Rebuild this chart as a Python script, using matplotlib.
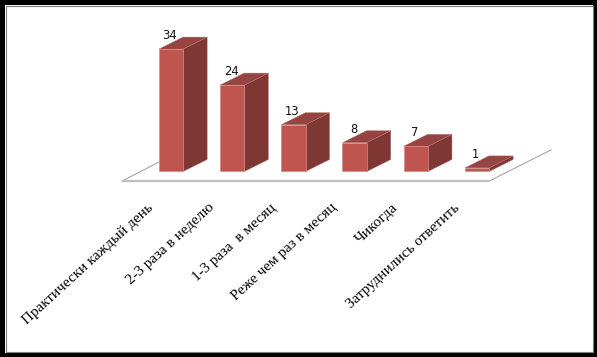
import matplotlib
matplotlib.use("Agg")
import matplotlib.pyplot as plt
from matplotlib.patches import Polygon, Rectangle

categorias = ["Практически каждый день", "2-3 раза в неделю", "1-3 раза  в месяц",
              "Реже чем раз в месяц", "Чикогда", "Затруднились ответить"]
valores = [34, 24, 13, 8, 7, 1]

W, H = 597, 357
PX_X = 61.2    # px por categoria
PX_Y = 3.6     # px por unidad
X0, Y0 = 171.0, 171.5  # posicion en px de la categoria 0 / valor 0

ANCHO = 24.3 / PX_X
DX = 24.0 / PX_X
DY = 12.0 / PX_Y

COL_FRENTE = "#C0544F"
COL_LADO = "#7F3734"
COL_TOPE = "#954441"
COL_BORDE = "#D28B88"

fig = plt.figure(figsize=(W / 100, H / 100), dpi=100, facecolor="white")
ax = fig.add_axes([0, 0, 1, 1])
ax.set_xlim(-X0 / PX_X, (W - X0) / PX_X)
ax.set_ylim(-(H - Y0) / PX_Y, Y0 / PX_Y)
ax.axis("off")

# Suelo del grafico 3D
suelo_izq = -0.8
suelo_der = 5.2
suelo_y = -2.65
ax.plot([suelo_izq, -0.2], [suelo_y, 2.6], color="#A6A6A6", lw=0.8, zorder=1)
ax.plot([suelo_der, suelo_der + 1.01], [suelo_y, 6.0], color="#A6A6A6", lw=0.8, zorder=1)
ax.plot([suelo_izq, suelo_der], [suelo_y, suelo_y], color="#BFBFBF", lw=1.6,
        solid_capstyle="butt", zorder=1)

for i, v in enumerate(valores):
    izq = i - ANCHO / 2
    der = i + ANCHO / 2
    ax.add_patch(Polygon([(der, 0), (der + DX, DY), (der + DX, v + DY), (der, v)],
                         facecolor=COL_LADO, edgecolor="#A9706E", lw=0.3, zorder=2))
    ax.add_patch(Polygon([(izq, v), (der, v), (der + DX, v + DY), (izq + DX, v + DY)],
                         facecolor=COL_TOPE, edgecolor="#B27573", lw=0.3, zorder=2))
    ax.bar(i, v, width=ANCHO, color=COL_FRENTE, edgecolor=COL_BORDE, linewidth=0.5, zorder=3)
    ax.text(i - 0.02, v + 13.5 / PX_Y, str(v), ha="center", va="center",
            fontsize=8.3, color="#111111", family="DejaVu Sans", zorder=4)

# Etiquetas giradas
for i, nombre in enumerate(categorias):
    ax.text(i - 0.39, -8.2, nombre, rotation=42.5, rotation_mode="anchor", ha="right", va="top",
            fontsize=10.9, family="Liberation Serif", color="black")

# Marco negro de la imagen
marco = [(0, 0, W, 5), (0, 352.5, W, 4.5), (0, 0, 5, H), (592.5, 0, 4.5, H)]
for x, y, w, h in marco:
    fig.add_artist(Rectangle((x / W, 1 - (y + h) / H), w / W, h / H, transform=fig.transFigure,
                             facecolor="black", edgecolor="none"))
fig.add_artist(Rectangle((5.5 / W, 1 - 352 / H), 587 / W, 346.5 / H, transform=fig.transFigure,
                         facecolor="none", edgecolor="#7F7F7F", lw=0.8))

fig.savefig("out.png", dpi=100)
plt.close(fig)
